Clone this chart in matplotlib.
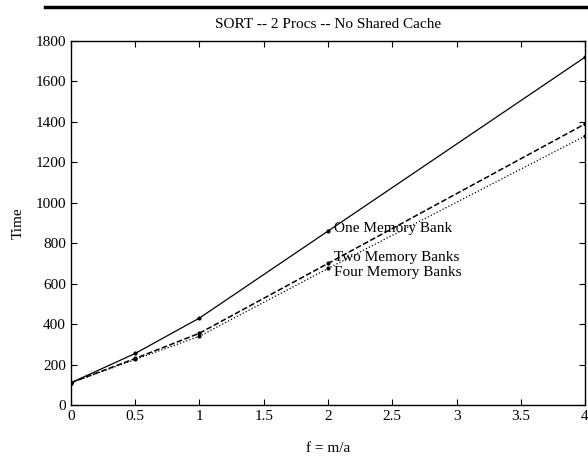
import matplotlib
matplotlib.use("Agg")
import matplotlib.pyplot as plt
from matplotlib.lines import Line2D

# f = m/a sample points and the measured run time for each bank configuration
f_vals = [0, 0.5, 1, 2, 4]
one_bank = [110, 255, 430, 860, 1720]
two_banks = [110, 230, 355, 700, 1390]
four_banks = [110, 225, 340, 675, 1330]

plt.rcParams['font.family'] = ['Liberation Serif', 'DejaVu Serif']

fig = plt.figure(figsize=(5.88, 4.62), dpi=100)
ax = fig.add_axes([0.1207, 0.1234, 0.8743, 0.7879])

ax.plot(f_vals, one_bank, '-', color='black', lw=0.9, marker='.', ms=4)
ax.plot(f_vals, two_banks, '--', color='black', lw=1.1, marker='.', ms=4)
ax.plot(f_vals, four_banks, ':', color='black', lw=0.9, marker='.', ms=4)

ax.set_xlim(0, 4)
ax.set_ylim(0, 1800)
ax.set_xticks([0, 0.5, 1, 1.5, 2, 2.5, 3, 3.5, 4])
ax.set_xticklabels(['0', '0.5', '1', '1.5', '2', '2.5', '3', '3.5', '4'])
ax.set_yticks(range(0, 1801, 200))
ax.tick_params(direction='in', top=True, right=True, labelsize=11, length=4)
for s in ax.spines.values():
    s.set_linewidth(1.0)

ax.set_title('SORT -- 2 Procs -- No Shared Cache', fontsize=11, pad=9)
ax.set_xlabel('f = m/a', fontsize=11, labelpad=14)
ax.set_ylabel('Time', fontsize=11, labelpad=8)

# labels next to the f = 2 points
ax.annotate('One Memory Bank', (f_vals[3], one_bank[3]), xytext=(4, 2),
            textcoords='offset points', fontsize=11, va='center')
ax.annotate('Two Memory Banks', (f_vals[3], two_banks[3]), xytext=(4, 4),
            textcoords='offset points', fontsize=11, va='center')
ax.annotate('Four Memory Banks', (f_vals[3], four_banks[3]), xytext=(4, -3),
            textcoords='offset points', fontsize=11, va='center')

# heavy rule across the top of the page
fig.add_artist(Line2D([0.077, 1.0], [0.985, 0.985], color='black', lw=2.5,
                      transform=fig.transFigure))

fig.savefig('out.png', dpi=100)
